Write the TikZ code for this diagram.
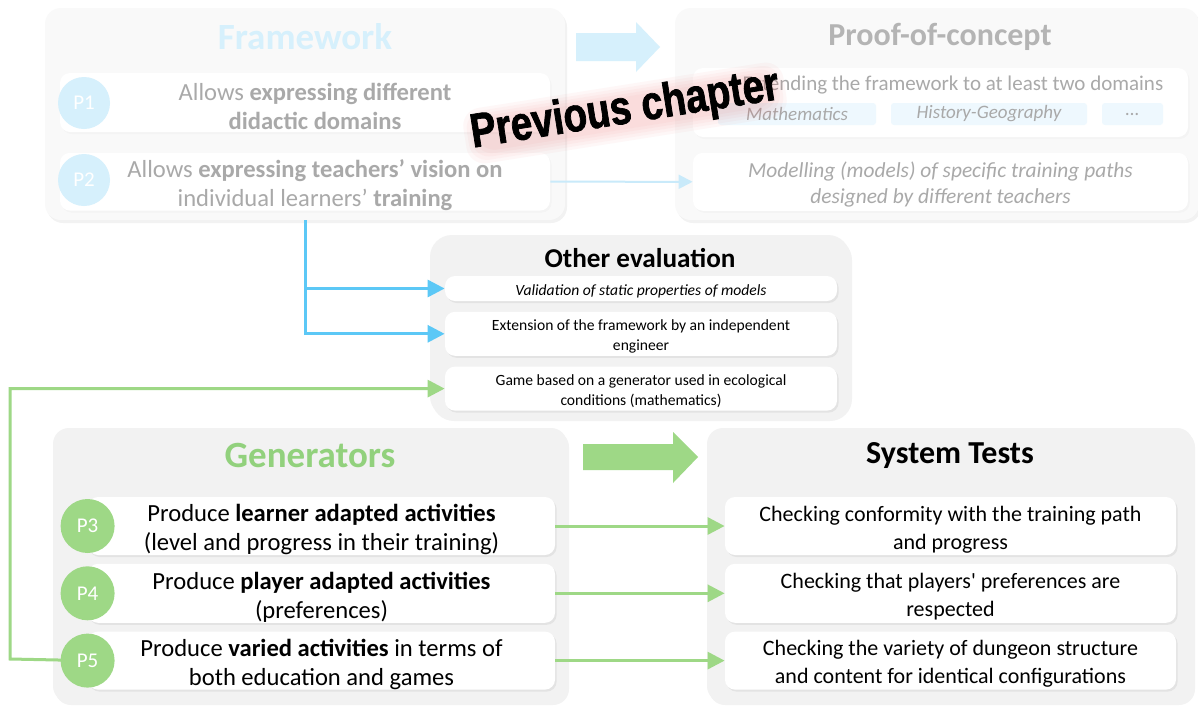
\documentclass[tikz,border=0pt]{standalone}
\usepackage{fontspec}
\setmainfont{Carlito}
\newfontfamily\stampfont{Liberation Sans}[FakeStretch=0.8,BoldFeatures={FakeBold=1.5}]
\usetikzlibrary{arrows.meta,positioning,shadows}
\definecolor{fadeblue}{HTML}{D6F0FC}
\definecolor{fadetxt}{HTML}{A9A9A9}
\definecolor{fadettl}{HTML}{B4B4B4}
\definecolor{fadepanel}{HTML}{F9F9F9}
\definecolor{fadelink}{HTML}{C9EAFA}
\definecolor{chipblue}{HTML}{EEF8FE}
\definecolor{panelgray}{HTML}{F2F2F2}
\definecolor{linkblue}{HTML}{5CC8F6}
\definecolor{leaf}{HTML}{9ED886}
\definecolor{leafdk}{HTML}{92D17D}
\definecolor{glowred}{HTML}{E85A5A}
\newcommand{\sq}{{\addfontfeatures{Ligatures=TeXOff}'}}
\newcommand{\lift}{\rule{0pt}{1em}}
\tikzset{
  panel/.style={rectangle,rounded corners=8pt,fill=#1,
                drop shadow={opacity=0.10,shadow xshift=1pt,shadow yshift=-1.5pt}},
  ttl/.style={font=\fontsize{#1}{#1}\selectfont\bfseries},
  box/.style={rectangle,rounded corners=5pt,fill=white,align=center,
              inner sep=0pt,
              drop shadow={opacity=0.13,shadow xshift=0.8pt,shadow yshift=-1pt}},
  fbox/.style={rectangle,rounded corners=5pt,fill=white,align=center,
               inner sep=0pt,text=fadetxt,
               drop shadow={opacity=0.04,shadow xshift=0.8pt,shadow yshift=-1pt}},
  pnum/.style={circle,fill=#1,text=white,minimum size=27pt,inner sep=0pt,
               font=\fontsize{10.5}{11}\selectfont},
  chip/.style={rectangle,rounded corners=1.5pt,fill=chipblue,minimum height=11pt,
               inner sep=0pt,text=fadetxt,font=\fontsize{9.5}{10}\selectfont\itshape},
  blink/.style={-{Triangle[length=8.5pt,width=8.5pt]},line width=1.5pt,color=linkblue},
  glink/.style={-{Triangle[length=8.5pt,width=8.5pt]},line width=1.5pt,color=leaf},
  flink/.style={-{Triangle[length=7pt,width=7pt]},line width=1pt,color=fadelink},
  glow/.style={rectangle,rotate=9,fill=glowred,opacity=0.045,rounded corners=9pt},
}

\begin{document}
\begin{tikzpicture}[x=0.5pt,y=-0.5pt]
  \tikzset{body/.style={font=\fontsize{12.3}{14.5}\selectfont}}
  \tikzset{small/.style={font=\fontsize{7.8}{10}\selectfont}}
  \tikzset{sysf/.style={font=\fontsize{11}{14}\selectfont}}
  \fill[white] (0,0) rectangle (1198,707);
  \useasboundingbox (0,0) rectangle (1198,707);

  % previous chapter (faded)
  \node[panel=fadepanel,minimum width=260pt,minimum height=106pt] (fw) at (305,114) {};
  \node[panel=fadepanel,minimum width=262pt,minimum height=106pt] (poc) at (937,114) {};
  \node[ttl=18.5,text=fadeblue] (fwt) at (305,37) {Framework};
  \node[ttl=16,text=fadettl] (poct) at (940,37) {Proof-of-concept};

  \node[fbox,body,minimum width=245pt,minimum height=29.5pt] (fb1) at (305,102.5)
    {\lift\hspace*{10pt}Allows \textbf{expressing different}\\\hspace*{10pt}\textbf{didactic domains}};
  \node[fbox,body,minimum width=245pt,minimum height=28pt,below=10pt of fb1] (fb2)
    {\lift\hspace*{10pt}Allows \textbf{expressing teachers’ vision on}\\\hspace*{10pt}individual learners’ \textbf{training}};
  \node[fbox,minimum width=247.5pt,minimum height=34.5pt] (pb1) at (940.5,102.5) {};
  \node[text=fadetxt,font=\fontsize{10.5}{12}\selectfont] (pb1t) at (953,85)
    {Extending the framework to at least two domains};
  \node[chip,minimum width=79pt] (math) at (797,114) {Mathematics};
  \node[chip,minimum width=98pt] (hist) at (989,114) {History-Geography};
  \node[chip,minimum width=30.5pt] (more) at (1132.5,114) {...};
  \node[fbox,minimum width=247.5pt,minimum height=29pt,below=7.5pt of pb1,
        font=\fontsize{10.7}{13}\selectfont\itshape] (pb2)
    {\lift Modelling (models) of specific training paths\\designed by different teachers};
  \draw[flink] (fb2.east) -- (pb2.west);
  \node[pnum=fadeblue,minimum size=26pt] (c1) at (84,103) {P1};
  \node[pnum=fadeblue,minimum size=26pt] (c2) at (84,180) {P2};
  \fill[fadeblue] (576,33) -- (636,33) -- (636,22) -- (660,47) -- (636,72)
    -- (636,61) -- (576,61) -- cycle;

  % other evaluation
  \node[panel=panelgray,rounded corners=11pt,minimum width=210pt,
        minimum height=91.5pt] (oth) at (640,326.5) {};
  \node[ttl=13.6] (otht) at (640,258) {Other evaluation};
  \node[box,small,minimum width=196pt,minimum height=12.5pt] (val) at (641,288.5)
    {\lift\itshape Validation of static properties of models};
  \node[box,small,minimum width=196pt,minimum height=22pt,below=5pt of val] (ext)
    {\lift Extension of the framework by an independent\\engineer};
  \node[box,small,minimum width=196pt,minimum height=22pt,below=5pt of ext] (game)
    {\lift Game based on a generator used in ecological\\conditions (mathematics)};

  % generators and system tests
  \node[panel=panelgray,minimum width=257pt,minimum height=137pt] (gen) at (310,565) {};
  \node[panel=panelgray,minimum width=243pt,minimum height=137pt] (sys) at (950,565) {};
  \node[ttl=18.5,text=leafdk] (gent) at (310,455) {Generators};
  \node[ttl=16] (syst) at (950,456) {System Tests};

  \node[box,body,minimum width=233.5pt,minimum height=29pt] (g3) at (321.5,526)
    {\lift Produce \textbf{learner adapted activities}\\(level and progress in their training)};
  \node[box,body,minimum width=233.5pt,minimum height=29.5pt,below=4pt of g3] (g4)
    {\lift Produce \textbf{player adapted activities}\\(preferences)};
  \node[box,body,minimum width=233.5pt,minimum height=29pt,below=4pt of g4] (g5)
    {\lift Produce \textbf{varied activities} in terms of\\both education and games};

  \node[box,sysf,minimum width=225.5pt,minimum height=29pt] (s3) at (950.5,526)
    {\lift Checking conformity with the training path\\and progress};
  \node[box,sysf,minimum width=225.5pt,minimum height=29.5pt,below=4pt of s3] (s4)
    {\lift Checking that players\sq{} preferences are\\respected};
  \node[box,sysf,minimum width=225.5pt,minimum height=29pt,below=4pt of s4] (s5)
    {\lift Checking the variety of dungeon structure\\and content for identical configurations};

  \fill[leaf] (583,444) -- (673,444) -- (673,432) -- (698,457) -- (673,483)
    -- (673,470) -- (583,470) -- cycle;

  \draw[blink] (fw.south) |- (val.west);
  \draw[blink] (fw.south) |- (ext.west);
  \coordinate (gturn) at (10,659);
  \draw[glink] (g5.west) -- (gturn) |- (game.west);
  \foreach \a/\b in {g3/s3,g4/s4,g5/s5}
    \draw[glink] (\a.east) -- (\b.west);

  \node[pnum=leaf] (c3) at (g3.west) {P3};
  \node[pnum=leaf] (c4) at (g4.west) {P4};
  \node[pnum=leaf] (c5) at (g5.west) {P5};

  % stamp
  \foreach \s in {0,3,6,9,12}
    \node[glow,minimum width=150pt+\s pt,minimum height=16pt+\s pt] at (625,113) {};
  \node[rotate=9,font=\fontsize{24}{24}\stampfont\bfseries] (stamp) at (625,111)
    {Previous chapter};
\end{tikzpicture}
\end{document}
